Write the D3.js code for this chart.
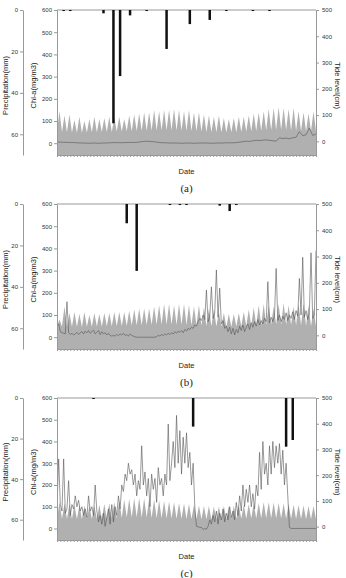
<!DOCTYPE html>
<html>
<head>
<meta charset="utf-8">
<script src="https://cdn.jsdelivr.net/npm/d3@7"></script>
<style>
  body { margin: 0; background: #fff; }
  text { font-family: "Liberation Sans", Arial, sans-serif; fill: #222; }
  .axis path, .axis line { stroke: #999; }
  .axis text { font-size: 6px; fill: #333; }
</style>
</head>
<body>
<script>
let w = 346;
let h = 578;
let days = 78;

// tick labels
let precipTicks = [0, 20, 40, 60];
let chlTicks = [0, 100, 200, 300, 400, 500, 600];
let tideTicks = [0, 100, 200, 300, 400, 500];
let panelNames = ["(a)", "(b)", "(c)"];

// tide level (cm): high of each tidal spike, and the lows between them
let tideHighA = [115,98,102,81,94,77,85,94,85,89,94,89,94,85,98,102,106,110,110,119,115,119,119,123,119,115,119,110,110,102,98,94,98,89,85,89,94,94,98,106,110,115,123,127,131,127,123,127,115,110,106,115];
let tideLowA = [38,36,35,34,33,33,34,35,35,36,36,36,37,37,38,38,39,40,40,41,41,42,42,42,41,41,40,39,38,37,36,35,35,34,34,35,35,36,37,38,39,40,41,42,43,43,42,41,40,39,38,38,38];
let tideHighB = [60,110,85,89,81,89,77,85,81,85,85,89,89,89,94,98,102,102,102,110,115,119,119,115,119,119,115,110,115,106,102,98,89,85,81,81,85,89,98,106,115,119,115,110,119,123,115,110,119,123,115,102];
let tideLowB = [35,34,33,33,32,32,33,33,34,34,35,35,35,36,36,37,38,38,39,40,40,41,41,41,40,40,39,38,38,37,36,35,34,34,33,33,34,35,36,37,38,39,40,41,41,40,40,39,38,37,36,35,35];
let tideHighC = [95,90,88,85,84,82,80,82,85,88,90,95,100,105,108,110,112,110,108,105,102,100,98,95,92,90,88,85,82,80,80,78,78,80,80,82,84,85,88,90,92,95,95,94,92,90,88,85,84,82,80,80];
let tideLowC = [32,31,30,30,29,29,29,30,30,31,31,32,33,34,35,35,36,35,35,34,33,33,32,32,31,31,30,30,29,29,29,28,28,29,29,30,30,31,31,32,32,33,33,33,32,32,31,31,30,30,29,29,29];

// Chl-a (mg/m3), spread evenly over the date span
let chlA = [5,5,4,4,3,3,2,1,1,0,0,1,0,0,1,1,2,3,3,2,3,3,4,3,4,6,8,9,8,7,5,3,2,2,1,1,1,0,0,1,1,0,0,1,1,1,0,0,1,1,1,2,2,2,3,5,7,9,8,11,13,12,14,15,13,11,10,24,21,23,20,25,27,52,34,38,68,35,42];
let chlB = [50,60,25,20,18,15,160,20,12,18,10,15,22,12,20,25,15,28,20,30,18,25,32,15,22,30,12,25,15,20,10,18,8,5,8,5,12,8,15,10,18,8,12,5,15,8,5,2,0,0,0,0,0,0,0,0,0,0,0,0,3,8,5,12,8,15,10,18,12,20,15,25,18,28,22,30,20,35,28,40,35,45,40,55,50,70,85,75,100,80,212,70,90,227,85,110,303,90,221,60,75,40,50,25,45,15,40,10,35,20,50,30,55,25,45,60,35,65,45,70,50,80,55,75,60,85,70,250,65,90,70,95,310,75,100,70,95,80,110,75,100,85,115,80,120,95,265,100,360,90,120,80,110,380,85,100,390];
let chlC = [100,320,110,80,320,70,90,220,60,110,90,150,100,130,80,100,60,90,50,150,80,100,60,200,80,30,60,20,70,10,50,90,20,110,30,100,60,150,90,200,170,250,220,300,250,270,200,250,150,220,180,380,200,260,150,230,100,250,180,230,120,280,200,230,150,250,200,480,220,300,400,280,520,300,450,250,420,300,440,280,350,200,300,100,10,8,5,5,-5,0,-3,10,40,20,60,30,80,20,70,40,90,30,70,40,100,50,80,40,120,60,150,80,200,100,180,120,200,100,160,90,200,150,350,180,400,250,300,200,380,250,400,280,380,300,390,250,360,200,300,150,5,0,0,0,0,0,0,0,0,0,0,0,0,0,0,0,0];

// precipitation (mm) and the day it fell
let rainDayA = [2,4,14,17,19,22,27,33,40,46,51,59,64];
let rainA = [0.5,0.5,1.6,54.7,31.9,2.6,0.5,18.8,6.8,4.8,0.5,0.5,0.5];
let rainDayB = [21,24,34,37,39,49,52,54];
let rainB = [9.3,32.3,0.5,0.5,0.5,0.8,3.4,0.5];
let rainDayC = [11,41,69,71];
let rainC = [0.5,14.1,24,20.7];

let panels = [
  { top: 10,  hgt: 145, high: tideHighA, low: tideLowA, chl: chlA, rainDay: rainDayA, rain: rainA },
  { top: 204, hgt: 145, high: tideHighB, low: tideLowB, chl: chlB, rainDay: rainDayB, rain: rainB },
  { top: 398, hgt: 142, high: tideHighC, low: tideLowC, chl: chlC, rainDay: rainDayC, rain: rainC }
];

let left = 57, right = 316, precipX = 23;

let svg = d3.select("body")
            .append("svg")
            .attr("width", w)
            .attr("height", h);

let xScale = d3.scaleLinear()
               .domain([0, days])
               .range([left, right]);

panels.forEach((p, k) => {
  let bottom = p.top + p.hgt;

  let chlScale = d3.scaleLinear().domain([-53, 600]).range([bottom, p.top]);
  let tideScale = d3.scaleLinear().domain([-52, 500]).range([bottom, p.top]);
  let rainScale = d3.scaleLinear().domain([0, 70]).range([p.top, bottom]);

  let g = svg.append("g").attr("id", "panel-" + k);

  g.append("clipPath")
   .attr("id", "clip-" + k)
   .append("rect")
   .attr("x", left)
   .attr("y", p.top)
   .attr("width", right - left)
   .attr("height", p.hgt);

  // tide: lows and highs alternate
  let n = p.high.length;
  let step = days / n;
  let tidePts = [];
  p.high.forEach((v, i) => {
    tidePts.push([i * step, p.low[i]]);
    tidePts.push([(i + 0.5) * step, v]);
  });
  tidePts.push([days, p.low[n]]);

  let tideArea = d3.area()
                   .x(d => xScale(d[0]))
                   .y0(bottom)
                   .y1(d => tideScale(d[1]));

  g.append("path")
   .datum(tidePts)
   .attr("clip-path", "url(#clip-" + k + ")")
   .attr("d", tideArea)
   .attr("fill", "#b0b0b0");

  // chl-a line
  let cstep = days / (p.chl.length - 1);
  let chlLine = d3.line()
                  .x((d, i) => xScale(i * cstep))
                  .y(d => chlScale(d));

  g.append("path")
   .datum(p.chl)
   .attr("clip-path", "url(#clip-" + k + ")")
   .attr("d", chlLine)
   .attr("fill", "none")
   .attr("stroke", "#555")
   .attr("stroke-width", 0.6);

  // top frame line
  g.append("line")
   .attr("x1", left).attr("x2", right)
   .attr("y1", p.top).attr("y2", p.top)
   .attr("stroke", "#999");

  // precipitation bars hanging from the top
  g.selectAll(".rain")
   .data(p.rain)
   .enter()
   .append("rect")
   .attr("class", "rain")
   .attr("x", (d, i) => xScale(p.rainDay[i]) - 1.25)
   .attr("y", p.top)
   .attr("width", 2.5)
   .attr("height", d => Math.max(1, rainScale(d) - p.top))
   .attr("fill", "#111");

  // axes
  g.append("g")
   .attr("class", "axis")
   .attr("transform", "translate(0," + bottom + ")")
   .call(d3.axisBottom(xScale).tickValues(d3.range(0, days + 1)).tickSize(2).tickFormat(""));

  g.append("g")
   .attr("class", "axis")
   .attr("transform", "translate(" + left + ",0)")
   .call(d3.axisLeft(chlScale).tickValues(chlTicks).tickSize(3).tickPadding(2).tickSizeOuter(0));

  g.append("g")
   .attr("class", "axis")
   .attr("transform", "translate(" + right + ",0)")
   .call(d3.axisRight(tideScale).tickValues(tideTicks).tickSize(3).tickPadding(3).tickSizeOuter(0));

  g.append("g")
   .attr("class", "axis")
   .attr("transform", "translate(" + precipX + ",0)")
   .call(d3.axisLeft(rainScale).tickValues(precipTicks).tickSize(3).tickPadding(2).tickSizeOuter(0));

  let mid = p.top + p.hgt / 2 + 3;

  g.append("text")
   .attr("transform", "translate(8," + mid + ") rotate(-90)")
   .attr("text-anchor", "middle")
   .style("font-size", "7.5px")
   .text("Precipitation(mm)");

  g.append("text")
   .attr("transform", "translate(36," + mid + ") rotate(-90)")
   .attr("text-anchor", "middle")
   .style("font-size", "7.5px")
   .text("Chl-a(mg/m3)");

  g.append("text")
   .attr("transform", "translate(335," + mid + ") rotate(90)")
   .attr("text-anchor", "middle")
   .style("font-size", "7.5px")
   .text("Tide level(cm)");

  g.append("text")
   .attr("x", (left + right) / 2)
   .attr("y", bottom + 19)
   .attr("text-anchor", "middle")
   .style("font-size", "7.5px")
   .text("Date");

  g.append("text")
   .attr("x", (left + right) / 2)
   .attr("y", bottom + 37)
   .attr("text-anchor", "middle")
   .style("font-family", "'Liberation Serif', 'Times New Roman', serif")
   .style("font-size", "11px")
   .text(panelNames[k]);
});
</script>
</body>
</html>
